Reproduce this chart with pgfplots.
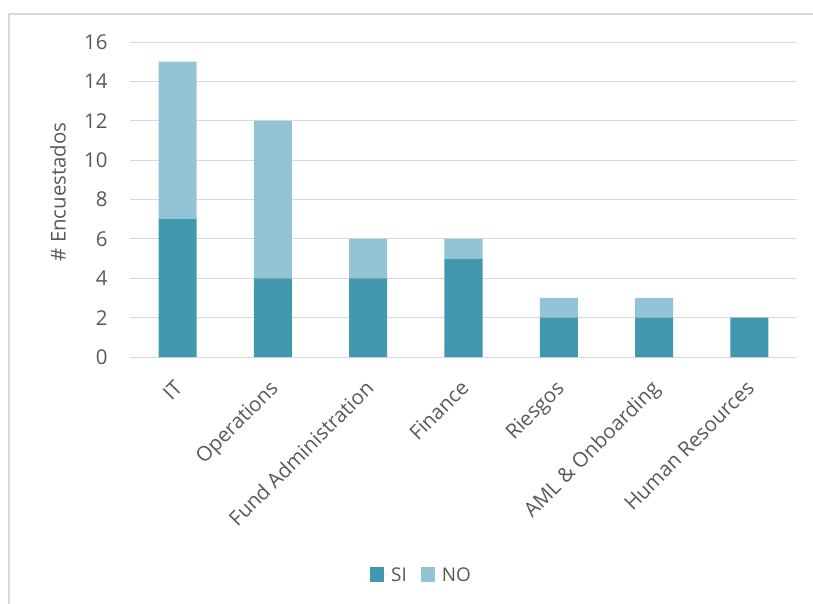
\documentclass[border=0pt]{standalone}
\usepackage{pgfplots}
\pgfplotsset{compat=1.18}
\usepackage{fontspec}
\setmainfont{Open Sans}
\definecolor{si}{HTML}{4198AF}
\definecolor{no}{HTML}{93C4D5}
\definecolor{gridc}{HTML}{D9D9D9}
\definecolor{txt}{HTML}{595959}
\begin{document}
\begin{tikzpicture}
\useasboundingbox (-130bp,-247bp) rectangle (683bp,357bp);
\draw[gridc, line width=1.2bp] (-121bp,-260bp) -- (-121bp,343bp) -- (700bp,343bp);
\begin{axis}[
  at={(0,0)}, anchor=south west,
  scale only axis, width=667bp, height=315bp,
  ybar stacked, bar width=38bp,
  xmin=-0.5, xmax=6.5, ymin=0, ymax=16,
  xtick=data,
  xticklabels={IT,Operations,Fund Administration,Finance,Riesgos,AML \& Onboarding,Human Resources},
  ytick={0,2,...,16},
  ymajorgrids, grid style={gridc, line width=1bp},
  axis line style={draw=none},
  major tick length=0,
  tick label style={font=\fontsize{20.5}{24}\selectfont, text=txt},
  /pgf/number format/assume math mode=true,
  yticklabel style={xshift=-19bp},
  xticklabel style={rotate=45, anchor=north east, xshift=-15bp, yshift=-9bp},
  ylabel={\# Encuestados},
  ylabel style={at={(axis description cs:-0.108,0.524)}, anchor=center, font=\fontsize{20.5}{24}\selectfont, text=txt},
  legend columns=2,
  legend style={draw=none, at={(axis description cs:0.437,-0.692)}, anchor=center, font=\fontsize{19}{22}\selectfont, text=txt, /tikz/every even column/.append style={column sep=12bp}},
  legend image code/.code={\path (0bp,0bp) -- (19bp,0bp); \fill[#1] (0bp,-7.5bp) rectangle (14bp,7.5bp);},
]
\addplot[fill=si, draw=none] coordinates {(0,7) (1,4) (2,4) (3,5) (4,2) (5,2) (6,2)};
\addplot[fill=no, draw=none] coordinates {(0,8) (1,8) (2,2) (3,1) (4,1) (5,1) (6,0)};
\legend{SI,NO}
\end{axis}
\end{tikzpicture}
\end{document}
